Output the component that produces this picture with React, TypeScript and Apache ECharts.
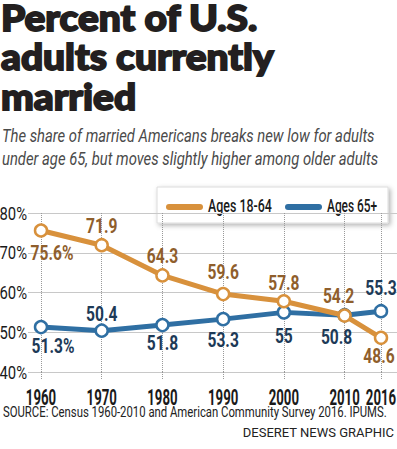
import React, { useEffect, useRef } from "react";
import * as echarts from "echarts";

const years = [1960, 1970, 1980, 1990, 2000, 2010, 2016];
const ages1864 = [75.6, 71.9, 64.3, 59.6, 57.8, 54.2, 48.6];
const ages65 = [51.3, 50.4, 51.8, 53.3, 55.0, 54.3, 55.3];
const ages1864Labels = ["75.6%", "71.9", "64.3", "59.6", "57.8", "54.2", "48.6"];
const ages65Labels = ["51.3%", "50.4", "51.8", "53.3", "55", "50.8", "55.3"];
const yTicks = [40, 50, 60, 70, 80];
const seriesNames = ["Ages 18-64", "Ages 65+"];
const titleLines = ["Percent of U.S.", "adults currently", "married"];
const subtitleLines = [
  "The share of married Americans breaks new low for adults",
  "under age 65, but moves slightly higher among older adults",
];
const sourceText = "SOURCE: Census 1960-2010 and American Community Survey 2016. IPUMS.";
const creditText = "DESERET NEWS GRAPHIC";

const ORANGE = "#d8913c";
const BLUE = "#2f6fa3";
const ORANGE_TXT = "#8f5e2c";
const BLUE_TXT = "#1d3a57";
const INK = "#1a1a1a";

// label offsets in pixels (styling only)
const off1864 = [[11, 22], [0, -19], [0, -20], [0, -22], [0, -18], [-6, -20], [-2, 18]];
const off65 = [[12, 19], [0, -17], [0, 18], [0, 21], [0, 23], [-8, 22], [0, -23]];

function condensedText(text: string, x: number, y: number, font: string, fill: string, scaleX: number, align = "center") {
  return {
    type: "text",
    x,
    y,
    scaleX,
    silent: true,
    style: { text, x: 0, y: 0, font, fill, align, verticalAlign: "middle" },
  };
}

export default function App() {
  const ref = useRef<HTMLDivElement>(null);
  useEffect(() => {
    if (!ref.current) return;
    const chart = echarts.init(ref.current, null, { renderer: "svg" });

    const labelSeries = (vals: number[], labels: string[], offs: number[][], color: string) => ({
      type: "custom",
      xAxisIndex: 1,
      yAxisIndex: 1,
      silent: true,
      clip: false,
      z: 10,
      data: years.map((y, i) => [y, vals[i]]),
      renderItem: (params: any, api: any) => {
        const i = params.dataIndex;
        const p = api.coord([api.value(0), api.value(1)]);
        return condensedText(labels[i], p[0] + offs[i][0], p[1] + offs[i][1], "bold 20px Roboto, sans-serif", color, 0.78);
      },
    });

    chart.setOption({
      animation: false,
      backgroundColor: "#fff",
      grid: [
        { left: 28, right: 0, top: 213, bottom: 77 },
        { left: 41, right: 16, top: 213, bottom: 77 },
      ],
      xAxis: [
        { gridIndex: 0, type: "value", min: 0, max: 1, show: false },
        {
          gridIndex: 1,
          type: "value",
          min: 1960,
          max: 2016,
          interval: 10,
          axisLine: { show: false },
          axisTick: { show: true, length: 8, lineStyle: { color: "#999", type: "dotted" } },
          axisLabel: { show: false },
          splitLine: { show: true, lineStyle: { color: "#999", type: "dotted" } },
        },
      ],
      yAxis: [
        {
          gridIndex: 0,
          type: "value",
          min: 40,
          max: 80,
          interval: 10,
          axisLine: { show: false },
          axisTick: { show: false },
          axisLabel: { show: false },
          splitLine: { lineStyle: { color: "#c8c8c8", width: 1 } },
        },
        { gridIndex: 1, type: "value", min: 40, max: 80, interval: 10, show: false },
      ],
      series: [
        {
          type: "line",
          name: seriesNames[1],
          xAxisIndex: 1,
          yAxisIndex: 1,
          data: years.map((y, i) => [y, ages65[i]]),
          symbol: "circle",
          symbolSize: 12,
          lineStyle: { color: BLUE, width: 5 },
          itemStyle: { color: "#fff", borderColor: BLUE, borderWidth: 2.5 },
          z: 2,
        },
        {
          type: "line",
          name: seriesNames[0],
          xAxisIndex: 1,
          yAxisIndex: 1,
          data: years.map((y, i) => [y, ages1864[i]]),
          symbol: "circle",
          symbolSize: 12,
          lineStyle: { color: ORANGE, width: 5 },
          itemStyle: { color: "#fff", borderColor: ORANGE, borderWidth: 2.5 },
          z: 3,
        },
        labelSeries(ages65, ages65Labels, off65, BLUE_TXT),
        labelSeries(ages1864, ages1864Labels, off1864, ORANGE_TXT),
        {
          // x-axis tick labels
          type: "custom",
          xAxisIndex: 1,
          yAxisIndex: 1,
          silent: true,
          clip: false,
          data: years.map((y) => [y, yTicks[0]]),
          renderItem: (params: any, api: any) => {
            const p = api.coord([api.value(0), api.value(1)]);
            return condensedText(String(years[params.dataIndex]), p[0], p[1] + 25, "bold 22px Roboto, sans-serif", INK, 0.6);
          },
        },
        {
          // y-axis tick labels
          type: "custom",
          xAxisIndex: 1,
          yAxisIndex: 1,
          silent: true,
          clip: false,
          data: yTicks.map((v) => [years[0], v]),
          renderItem: (params: any, api: any) => {
            const p = api.coord([api.value(0), api.value(1)]);
            return condensedText(yTicks[params.dataIndex] + "%", p[0] - 14, p[1], "19px Roboto, sans-serif", INK, 0.78, "right");
          },
        },
      ],
      graphic: [
        ...titleLines.map((t, i) => ({
          type: "text",
          x: 1,
          y: 17 + i * 39.5,
          scaleX: 1.08,
          style: {
            text: t,
            font: '900 36px Lato, "Noto Sans", sans-serif',
            lineHeight: 32,
            fill: "#231f20",
            stroke: "#231f20",
            lineWidth: 1.8,
            verticalAlign: "middle",
          },
        })),
        ...subtitleLines.map((t, i) => ({
          type: "text",
          x: 2,
          y: 135 + i * 23,
          scaleX: 0.78,
          style: {
            text: t,
            font: "italic 19px Roboto, sans-serif",
            fill: "#4a4a4a",
            verticalAlign: "middle",
          },
        })),
        {
          type: "text",
          x: 3,
          y: 412,
          scaleX: 0.81,
          style: { text: sourceText, font: "14px Roboto, sans-serif", fill: "#222", verticalAlign: "middle" },
        },
        {
          type: "text",
          x: 394,
          y: 432,
          style: {
            text: creditText,
            font: "13px Roboto, sans-serif",
            fill: "#222",
            align: "right",
            verticalAlign: "middle",
          },
        },
        // legend box
        {
          type: "group",
          z: 100,
          children: [
            {
              type: "rect",
              shape: { x: 157, y: 187, width: 231, height: 36 },
              style: {
                fill: "#fff",
                stroke: "#dcdcdc",
                lineWidth: 1,
                shadowBlur: 5,
                shadowColor: "rgba(0,0,0,0.3)",
                shadowOffsetX: 2,
                shadowOffsetY: 2,
              },
            },
            { type: "rect", shape: { x: 166, y: 204, width: 37, height: 6, r: 3 }, style: { fill: ORANGE } },
            condensedText(seriesNames[0], 208, 206, "500 18px Roboto, sans-serif", INK, 0.69, "left"),
            { type: "rect", shape: { x: 285, y: 204, width: 37, height: 6, r: 3 }, style: { fill: BLUE } },
            condensedText(seriesNames[1], 327, 206, "500 18px Roboto, sans-serif", INK, 0.66, "left"),
          ],
        },
      ],
    });
    return () => chart.dispose();
  }, []);
  return (
    <div
      ref={ref}
      style={{ position: "absolute", left: 0, top: 0, width: 397, height: 449, background: "#fff" }}
    />
  );
}
